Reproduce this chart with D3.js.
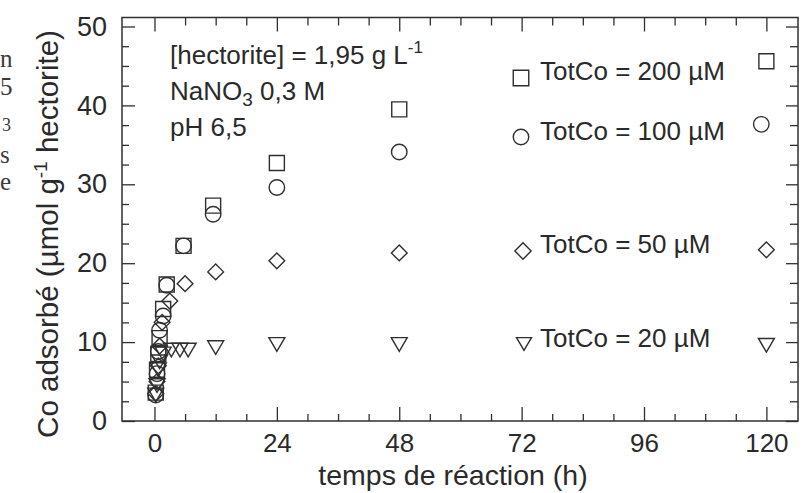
<!DOCTYPE html>
<html>
<head>
<meta charset="utf-8">
<script src="https://cdn.jsdelivr.net/npm/d3@7"></script>
<style>
  html, body { margin: 0; padding: 0; background: #ffffff; }
  svg { display: block; }
  text { font-family: "Liberation Sans", Arial, Helvetica, sans-serif; fill: #2a2a2a; }
</style>
</head>
<body>
<svg id="chart" width="808" height="493"></svg>
<script>
// ---------- data ----------
const xTickValues = [0, 24, 48, 72, 96, 120];
const xTickLabels = ["0", "24", "48", "72", "96", "120"];
const yTickValues = [0, 10, 20, 30, 40, 50];
const yTickLabels = ["0", "10", "20", "30", "40", "50"];

const seriesNames = ["TotCo = 200 µM", "TotCo = 100 µM", "TotCo = 50 µM", "TotCo = 20 µM"];
const seriesSymbols = ["square", "circle", "diamond", "triangleDown"];

const time200 = [0.25, 0.5, 0.75, 1, 1.7, 2.4, 5.7, 11.5, 24, 48, 120];
const co200   = [3.6, 6.5, 8.5, 10.5, 14.2, 17.3, 22.2, 27.3, 32.7, 39.5, 45.6];

const time100 = [0.25, 0.5, 0.75, 1, 1.7, 2.4, 5.7, 11.5, 24, 48, 119];
const co100   = [3.3, 6.0, 8.8, 11.5, 13.3, 17.2, 22.2, 26.2, 29.6, 34.1, 37.6];

const time50  = [0.25, 0.5, 0.75, 1, 1.5, 3, 6, 12, 24, 48, 120];
const co50    = [3.5, 5.0, 7.0, 9.5, 12.5, 15.2, 17.4, 18.9, 20.3, 21.3, 21.7];

const time20  = [0.25, 0.5, 0.75, 1, 1.7, 3.3, 5, 6.6, 12, 24, 48, 120];
const co20    = [3.3, 4.5, 6.5, 7.5, 8.5, 9.0, 9.0, 9.0, 9.3, 9.7, 9.7, 9.6];

const annotationLines = ["[hectorite] = 1,95 g L", "NaNO", "pH 6,5"];
const xTitle = "temps de réaction (h)";
const yTitle = "Co adsorbé (µmol g";
const marginFragments = ["n", "5", "3", "s", "e"];

// ---------- layout ----------
const svg = d3.select("#chart");
const L = 122, R = 798, T = 17.5, B = 421;
const x = d3.scaleLinear().domain([-6.37, 126.2]).range([L, R]);
const y = d3.scaleLinear().domain([0, 51.14]).range([B, T]);
const ink = "#2f2f2f";

// margin fragments from the neighbouring page text
const fragY = [67, 95, 131, 163, 190];
const fragSize = [25, 25, 18, 25, 25];
svg.append("g").selectAll("text").data(marginFragments).join("text")
  .attr("x", (d, i) => i === 2 ? 2 : 0)
  .attr("y", (d, i) => fragY[i])
  .style("font-family", "'Liberation Serif', 'DejaVu Serif', serif")
  .style("font-size", (d, i) => fragSize[i] + "px")
  .style("fill", "#3a3a3a")
  .text(d => d);

// ---------- axes (ticks pointing inward on all four sides) ----------
const xMinor = d3.range(6, 120, 6).filter(v => v % 24 !== 0);
const yMinor = d3.range(2.5, 50, 2.5).filter(v => v % 10 !== 0);

function styleAxis(g) {
  g.select(".domain").remove();
  g.selectAll("line").attr("stroke", ink).attr("stroke-width", 1.3);
  g.selectAll("text").style("font-size", "27px").attr("fill", "#2a2a2a");
}

// bottom
svg.append("g").attr("transform", `translate(0,${B})`)
  .call(d3.axisBottom(x).tickValues(xTickValues).tickSize(-14).tickPadding(20)
    .tickFormat((d, i) => xTickLabels[i]))
  .call(styleAxis)
  .call(g => g.selectAll("text").style("font-size", "26px").attr("dy", "0.71em").attr("y", 13));
svg.append("g").attr("transform", `translate(0,${B})`)
  .call(d3.axisBottom(x).tickValues(xMinor).tickSize(-7).tickFormat(""))
  .call(styleAxis);
// top
svg.append("g").attr("transform", `translate(0,${T})`)
  .call(d3.axisTop(x).tickValues(xTickValues).tickSize(-14).tickFormat(""))
  .call(styleAxis);
svg.append("g").attr("transform", `translate(0,${T})`)
  .call(d3.axisTop(x).tickValues(xMinor).tickSize(-8).tickFormat(""))
  .call(styleAxis);
// left
svg.append("g").attr("transform", `translate(${L},0)`)
  .call(d3.axisLeft(y).tickValues(yTickValues).tickSize(-13).tickPadding(28)
    .tickFormat((d, i) => yTickLabels[i]))
  .call(styleAxis)
  .call(g => g.selectAll("text").attr("x", -15));
svg.append("g").attr("transform", `translate(${L},0)`)
  .call(d3.axisLeft(y).tickValues(yMinor).tickSize(-7).tickFormat(""))
  .call(styleAxis);
// right
svg.append("g").attr("transform", `translate(${R},0)`)
  .call(d3.axisRight(y).tickValues(yTickValues).tickSize(-12).tickFormat(""))
  .call(styleAxis);
svg.append("g").attr("transform", `translate(${R},0)`)
  .call(d3.axisRight(y).tickValues(yMinor).tickSize(-8).tickFormat(""))
  .call(styleAxis);

// frame
svg.append("rect").attr("x", L).attr("y", T).attr("width", R - L).attr("height", B - T)
  .attr("fill", "none").attr("stroke", ink).attr("stroke-width", 1.5);

// ---------- axis titles ----------
svg.append("text").attr("x", 453).attr("y", 485).attr("text-anchor", "middle")
  .style("font-size", "28.5px").text(xTitle);

const yt = svg.append("text").attr("transform", "translate(58,234) rotate(-90)")
  .attr("text-anchor", "middle").style("font-size", "29.5px");
yt.append("tspan").text(yTitle);
yt.append("tspan").attr("dy", -11).style("font-size", "19px").text("-1");
yt.append("tspan").attr("dy", 11).text(" hectorite)");

// ---------- symbols ----------
function symbolPath(kind, s) {
  const h = s / 2;
  if (kind === "square") return `M${-h},${-h}H${h}V${h}H${-h}Z`;
  if (kind === "circle") return `M${h},0A${h},${h} 0 1,1 ${-h},0A${h},${h} 0 1,1 ${h},0Z`;
  if (kind === "diamond") { const d = h * 1.05; return `M0,${-d}L${d},0L0,${d}L${-d},0Z`; }
  // triangle pointing down
  const th = s * 0.85;
  return `M${-h},${-th / 2}H${h}L0,${th / 2}Z`;
}

const seriesTimes = [time200, time100, time50, time20];
const seriesValues = [co200, co100, co50, co20];
const markSize = [15, 15.5, 15, 16];

const plot = svg.append("g");
// draw low-concentration series first so the 200 µM squares lie on top
[3, 2, 1, 0].forEach(si => {
  const pts = seriesTimes[si].map((t, i) => ({ t, v: seriesValues[si][i] }));
  plot.append("g").selectAll("path").data(pts).join("path")
    .attr("transform", d => `translate(${x(d.t)},${y(d.v)})`)
    .attr("d", symbolPath(seriesSymbols[si], markSize[si]))
    .attr("fill", "none").attr("stroke", ink).attr("stroke-width", 1.4);
});

// ---------- annotation ----------
const ann = svg.append("g").style("font-size", "26px");
const a1 = ann.append("text").attr("x", 170).attr("y", 64);
a1.append("tspan").text(annotationLines[0]);
a1.append("tspan").attr("dy", -11).style("font-size", "17px").text("-1");
const a2 = ann.append("text").attr("x", 170).attr("y", 100);
a2.append("tspan").text(annotationLines[1]);
a2.append("tspan").attr("dy", 6).style("font-size", "19px").text("3");
a2.append("tspan").attr("dy", -6).text(" 0,3 M");
ann.append("text").attr("x", 170).attr("y", 136).text(annotationLines[2]);

// ---------- legend ----------
const legendY = [80, 140, 253, 347];
const legendMarkY = [78, 137, 251, 344];
const legendMarkX = [521, 521, 523, 524];
const lg = svg.append("g");
seriesNames.forEach((name, i) => {
  lg.append("path")
    .attr("transform", `translate(${legendMarkX[i]},${legendMarkY[i]})`)
    .attr("d", symbolPath(seriesSymbols[i], i === 3 ? 15 : 15.5))
    .attr("fill", "none").attr("stroke", ink).attr("stroke-width", 1.4);
  lg.append("text").attr("x", 540).attr("y", legendY[i])
    .style("font-size", "26px").text(name);
});
</script>
</body>
</html>
